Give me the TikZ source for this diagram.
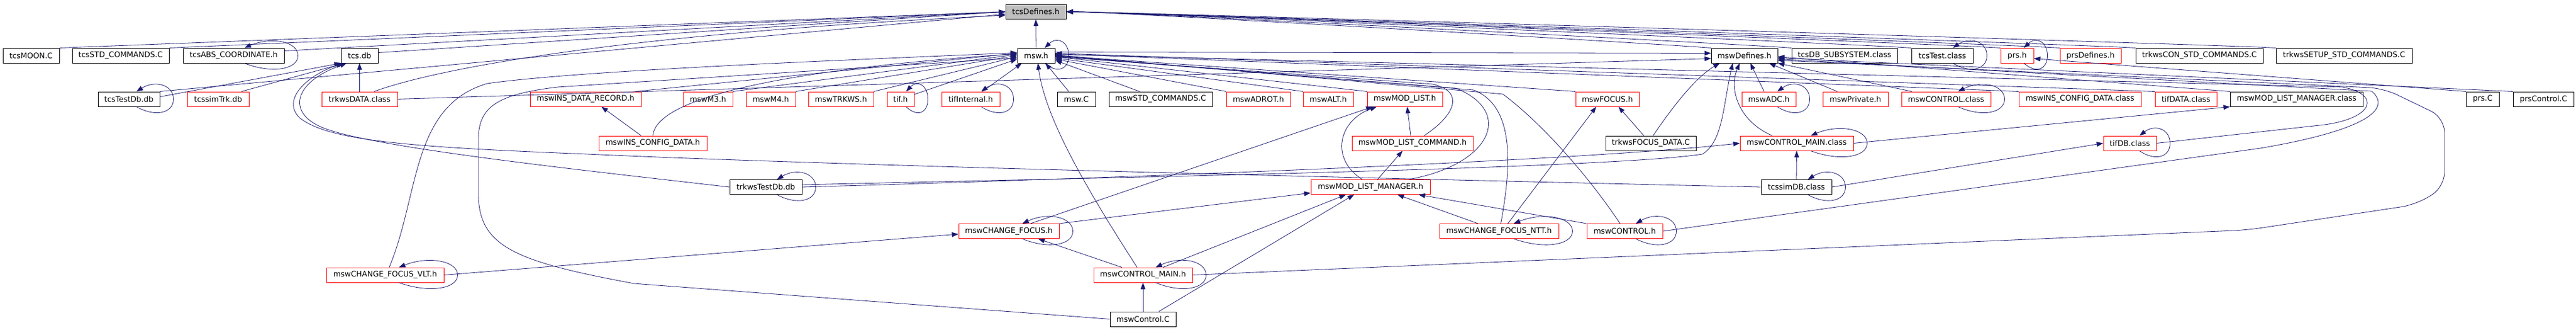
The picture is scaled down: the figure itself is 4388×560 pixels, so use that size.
\documentclass[tikz,border=0pt]{standalone}
\usepackage{fontspec}
\setmainfont{DejaVu Sans}
\usetikzlibrary{arrows.meta}
\definecolor{edgec}{HTML}{191970}
\definecolor{boxred}{HTML}{FF0000}
\definecolor{rootfill}{HTML}{BFBFBF}
\tikzset{
  nb/.style={draw=black, line width=1pt, minimum height=25pt, inner sep=0pt, font=\fontsize{13}{15}\selectfont},
  nr/.style={nb, draw=boxred},
  root/.style={nb, fill=rootfill},
  lnk/.style={draw=edgec, line width=0.8pt, -{Triangle[length=11pt,width=8pt]}},
}
\newcommand{\selfloop}[2]{\draw[lnk] ([xshift=-#2pt]#1.south east) .. controls +({0.5*#2+12},18) and +(0,24) .. ([xshift=23pt]#1.east) .. controls +(0,-24) and +({0.5*#2+12},-20) .. ([xshift=-#2pt]#1.north east);}
\begin{document}
\begin{tikzpicture}[x=1pt,y=-1pt]
\useasboundingbox (0,0) rectangle (4388,560);
% row 0
\node[root,minimum width=103pt] (tcsdef) at (1764.5,20) {tcsDefines.h};
% row 1
\node[nb,minimum width=96pt] (tcsmoon) at (53,94.5) {tcsMOON.C};
\node[nb,minimum width=165pt] (tcsstd) at (205.5,94.5) {tcsSTD\_COMMANDS.C};
\node[nb,minimum width=172pt] (tcsabs) at (398,94.5) {tcsABS\_COORDINATE.h};
\node[nb,minimum width=63pt] (tcsdb) at (612.5,94.5) {tcs.db};
\node[nb,minimum width=64pt] (msw) at (1765,94.5) {msw.h};
\node[nb,minimum width=113pt] (mdef) at (2971.5,94.5) {mswDefines.h};
\node[nb,minimum width=180pt] (tcsdbsub) at (3142,94.5) {tcsDB\_SUBSYSTEM.class};
\node[nb,minimum width=105pt] (tcstest) at (3308.5,94.5) {tcsTest.class};
\node[nr,minimum width=56pt] (prsh) at (3436,94.5) {prs.h};
\node[nr,minimum width=104pt] (prsdef) at (3561,94.5) {prsDefines.h};
\node[nb,minimum width=217pt] (trkcon) at (3746.5,94.5) {trkwsCON\_STD\_COMMANDS.C};
\node[nb,minimum width=232pt] (trksetup) at (3993,94.5) {trkwsSETUP\_STD\_COMMANDS.C};
% row 2
\node[nb,minimum width=105pt] (tcstestdb) at (219.5,168.5) {tcsTestDb.db};
\node[nr,minimum width=105pt] (tcssimtrk) at (371.5,168.5) {tcssimTrk.db};
\node[nr,minimum width=129pt] (trkdata) at (612.5,168.5) {trkwsDATA.class};
\node[nr,minimum width=189pt] (insdr) at (997.5,168.5) {mswINS\_DATA\_RECORD.h};
\node[nr,minimum width=84pt] (m3) at (1206,168.5) {mswM3.h};
\node[nr,minimum width=84pt] (m4) at (1313,168.5) {mswM4.h};
\node[nr,minimum width=111pt] (mtrk) at (1432.5,168.5) {mswTRKWS.h};
\node[nr,minimum width=46pt] (tif) at (1534,168.5) {tif.h};
\node[nr,minimum width=99pt] (tifint) at (1653.5,168.5) {tifInternal.h};
\node[nb,minimum width=65pt] (mswc) at (1833.5,168.5) {msw.C};
\node[nb,minimum width=176pt] (mstd) at (1977,168.5) {mswSTD\_COMMANDS.C};
\node[nr,minimum width=109pt] (madrot) at (2143.5,168.5) {mswADROT.h};
\node[nr,minimum width=85pt] (malt) at (2262.5,168.5) {mswALT.h};
\node[nr,minimum width=128pt] (mlist) at (2393,168.5) {mswMOD\_LIST.h};
\node[nr,minimum width=108pt] (mfocus) at (2738,168.5) {mswFOCUS.h};
\node[nr,minimum width=92pt] (madc) at (3013,168.5) {mswADC.h};
\node[nr,minimum width=111pt] (mpriv) at (3160.5,168.5) {mswPrivate.h};
\node[nr,minimum width=152pt] (mctlc) at (3315,168.5) {mswCONTROL.class};
\node[nr,minimum width=208pt] (minsc) at (3543,168.5) {mswINS\_CONFIG\_DATA.class};
\node[nr,minimum width=105pt] (tifdata) at (3723.5,168.5) {tifDATA.class};
\node[nb,minimum width=226pt] (mlmc) at (3912,168.5) {mswMOD\_LIST\_MANAGER.class};
\node[nb,minimum width=56pt] (prsc) at (4229,168.5) {prs.C};
\node[nb,minimum width=103pt] (prsctl) at (4332.5,168.5) {prsControl.C};
% row 3
\node[nr,minimum width=184pt] (insconf) at (1112,243.5) {mswINS\_CONFIG\_DATA.h};
\node[nr,minimum width=206pt] (mlc) at (2406,243.5) {mswMOD\_LIST\_COMMAND.h};
\node[nb,minimum width=154pt] (tfd) at (2812,243.5) {trkwsFOCUS\_DATA.C};
\node[nr,minimum width=193pt] (cmc) at (3060.5,243.5) {mswCONTROL\_MAIN.class};
\node[nr,minimum width=90pt] (tifdb) at (3628,243.5) {tifDB.class};
% row 4
\node[nb,minimum width=123pt] (ttdb) at (1304.5,318) {trkwsTestDb.db};
\node[nr,minimum width=203pt] (mlm) at (2334.5,318) {mswMOD\_LIST\_MANAGER.h};
\node[nb,minimum width=120pt] (tcssim) at (3060,318) {tcssimDB.class};
% row 5
\node[nr,minimum width=171pt] (cfocus) at (1718.5,393) {mswCHANGE\_FOCUS.h};
\node[nr,minimum width=203pt] (ntt) at (2553.5,393) {mswCHANGE\_FOCUS\_NTT.h};
\node[nr,minimum width=129pt] (mctlh) at (2767.5,393) {mswCONTROL.h};
% row 6
\node[nr,minimum width=200pt] (vlt) at (656,467.5) {mswCHANGE\_FOCUS\_VLT.h};
\node[nr,minimum width=168pt] (cmainh) at (1947,467.5) {mswCONTROL\_MAIN.h};
% row 7
\node[nb,minimum width=112pt] (mswctl) at (1947,542.5) {mswControl.C};

% ---- edges into tcsDefines.h (left)
\draw[lnk] (tcsmoon.north east) -- (tcsdef.west);
\draw[lnk] (tcsstd.north east) -- (tcsdef.west);
\draw[lnk] ([yshift=8pt]tcsabs.east) -- (tcsdef.west);
\draw[lnk] ([yshift=5pt]tcsdb.east) -- (tcsdef.west);
\draw[lnk] (tcstestdb.north east) -- ([yshift=-4pt]tcsdef.west);
\draw[lnk] ([xshift=-40pt]trkdata.north east) .. controls (720,125) and (1000,60) .. ([yshift=-6pt]tcsdef.west);
% ---- edges into tcsDefines.h (right)
\draw[lnk] (mdef.north west) .. controls +(-40,-4) and +(80,0) .. (tcsdef.east);
\draw[lnk] (tcsdbsub.north west) .. controls +(-40,-4) and +(80,0) .. (tcsdef.east);
\draw[lnk] (tcstest.north west) .. controls +(-40,-4) and +(80,0) .. (tcsdef.east);
\draw[lnk] (prsh.north west) .. controls +(-40,-4) and +(80,0) .. (tcsdef.east);
\draw[lnk] (prsdef.north west) .. controls +(-40,-4) and +(80,0) .. (tcsdef.east);
\draw[lnk] (trkcon.north west) .. controls +(-40,-4) and +(80,0) .. (tcsdef.east);
\draw[lnk] (trksetup.north west) .. controls +(-40,-4) and +(80,0) .. (tcsdef.east);
\draw[lnk] (msw.north) -- (tcsdef.south);
% ---- edges into tcs.db
\draw[lnk] (trkdata.north) -- (tcsdb.south);
\draw[lnk] ([yshift=4pt]tcstestdb.east) -- (tcsdb.south west);
\draw[lnk] ([xshift=40pt]tcssimtrk.north) -- ([xshift=6pt]tcsdb.south west);
\draw[lnk] (ttdb.west) .. controls (1000,290) and (620,250) .. (545,215) .. controls (490,190) and (500,140) .. ([xshift=10pt]tcsdb.south west);
\draw[lnk] (tcssim.west) .. controls (2200,300) and (1400,280) .. (1000,262) .. controls (700,250) and (560,240) .. (510,200) .. controls (480,170) and (520,130) .. ([xshift=3pt]tcsdb.south west);
% ---- edges into msw.h (left and below)
\draw[lnk] ([xshift=-10pt]insdr.north east) -- ([yshift=4pt]msw.west);
\draw[lnk] (m3.north east) -- ([yshift=2pt]msw.west);
\draw[lnk] (m4.north east) -- (msw.west);
\draw[lnk] (mtrk.north east) -- ([yshift=-2pt]msw.west);
\draw[lnk] ([yshift=8pt]tif.east) -- ([yshift=-6pt]msw.west);
\draw[lnk] ([xshift=20pt]tifint.north) -- ([xshift=8pt]msw.south west);
\draw[lnk] (insconf.north) .. controls (1120,150) and (1450,110) .. ([yshift=3pt]msw.west);
\draw[lnk] ([xshift=7pt]vlt.north) .. controls (715,330) and (700,180) .. (830,142) .. controls (1000,118) and (1500,100) .. ([yshift=5pt]msw.west);
\draw[lnk] (mswctl.west) -- (1080,482) .. controls (880,445) and (815,420) .. (815,330) -- (815,236) .. controls (815,180) and (850,160) .. (950,148) -- ([yshift=-4pt]msw.west);
\draw[lnk] ([xshift=-13pt]mswc.north) -- ([xshift=16pt]msw.south);
\draw[lnk] ([xshift=-10pt]cmainh.north) .. controls (1850,320) and (1780,200) .. ([xshift=3pt]msw.south);
% ---- edges into msw.h (right)
\draw[lnk] ([xshift=-36pt]mstd.north) -- ([yshift=-8pt]msw.east);
\draw[lnk] (madrot.north west) -- ([yshift=-6pt]msw.east);
\draw[lnk] (malt.north west) -- ([yshift=-4pt]msw.east);
\draw[lnk] (mlist.north west) -- ([yshift=-2pt]msw.east);
\draw[lnk] (mfocus.north west) -- (msw.east);
\draw[lnk] ([xshift=20pt]mlc.north) .. controls (2480,195) and (2495,155) .. (2440,143) -- ([yshift=-2pt]msw.east);
\draw[lnk] ([xshift=65pt]mlm.north) .. controls (2540,280) and (2580,190) .. (2480,150) -- ([yshift=-1pt]msw.east);
\draw[lnk] ([xshift=3pt]ntt.north) .. controls (2575,280) and (2580,180) .. (2510,153) -- (msw.east);
\draw[lnk] ([xshift=-8pt]mctlh.north) .. controls (2720,320) and (2640,220) .. (2560,160) -- ([yshift=1pt]msw.east);
\draw[lnk] (minsc.north west) -- ([yshift=3pt]msw.east);
\draw[lnk] (tifdata.north west) -- ([yshift=4pt]msw.east);
\draw[lnk] (tifdb.east) -- (3960,212) .. controls (4045,200) and (4055,160) .. (3990,148) -- ([yshift=2pt]msw.east);
% ---- edges into mswDefines.h
\draw[lnk] ([yshift=6pt]msw.east) -- ([yshift=4pt]mdef.west);
\draw[lnk] (trkdata.east) -- ([yshift=-5pt]mdef.west);
\draw[lnk] ([xshift=4pt]tfd.north) .. controls (2850,180) and (2890,130) .. ([xshift=-42pt]mdef.south);
\draw[lnk] ([xshift=-8pt]madc.north) -- ([xshift=10pt]mdef.south);
\draw[lnk] ([xshift=-31pt]mpriv.north) -- ([xshift=42pt]mdef.south);
\draw[lnk] ([xshift=18pt]mctlc.north west) -- (mdef.south east);
\draw[lnk] ([xshift=-42pt]cmc.north) .. controls (2960,205) and (2945,150) .. ([xshift=-8pt]mdef.south);
\draw[lnk] ([yshift=4pt]ttdb.east) .. controls (2000,300) and (2750,285) .. (2900,262) .. controls (2935,240) and (2935,180) .. ([xshift=-20pt]mdef.south);
\draw[lnk] (mlmc.north west) -- ([yshift=-2pt]mdef.east);
\draw[lnk] (prsctl.north west) -- ([yshift=-4pt]mdef.east);
\draw[lnk] (mctlh.east) -- (3850,252) .. controls (4010,225) and (4080,190) .. (4040,155) -- ([yshift=-6pt]mdef.east);
\draw[lnk, rounded corners=25pt] (cmainh.east) -- (3828,391) -- (4115,348) -- (4164,318) -- (4164,200) -- (4060,150) -- ([yshift=-8pt]mdef.east);
% ---- other edges
\draw[lnk] (prsc.north west) -- ([yshift=-5pt]prsh.east);
\draw[lnk] ([xshift=-20pt]insconf.north) -- ([xshift=27pt]insdr.south);
\draw[lnk] (mswctl.north) -- (cmainh.south);
\draw[lnk] ([xshift=-36pt]cmainh.north) -- ([xshift=50pt]cfocus.south);
\draw[lnk] (vlt.east) -- ([yshift=-5pt]cfocus.west);
\draw[lnk] ([xshift=37pt]cfocus.north) -- ([xshift=-55pt]mlist.south);
\draw[lnk] (cfocus.north east) -- ([yshift=3pt]mlm.south west);
\draw[lnk] ([xshift=34pt]cmainh.north) -- ([xshift=-42pt]mlm.south);
\draw[lnk] ([xshift=27pt]mswctl.north) -- ([xshift=-28pt]mlm.south);
\draw[lnk] ([xshift=-36pt]ntt.north) -- ([xshift=46pt]mlm.south);
\draw[lnk] (mctlh.north west) -- ([xshift=82pt]mlm.south);
\draw[lnk] ([xshift=-14pt]mlm.north) .. controls (2265,270) and (2280,205) .. ([xshift=-48pt]mlist.south);
\draw[lnk] ([xshift=12pt]mlm.north) -- ([xshift=-17pt]mlc.south);
\draw[lnk] ([xshift=-3pt]mlc.north) -- ([xshift=4pt]mlist.south);
\draw[lnk] ([xshift=15pt]ntt.north) -- ([xshift=-19pt]mfocus.south);
\draw[lnk] ([xshift=-12pt]tfd.north) -- ([xshift=19pt]mfocus.south);
\draw[lnk] (tcssim.north) -- (cmc.south);
\draw[lnk] (tcssim.east) -- (tifdb.west);
\draw[lnk] (cmc.east) -- (mlmc.south west);
\draw[lnk] (ttdb.east) .. controls (2000,300) and (2700,272) .. (cmc.west);
% ---- self loops
\selfloop{tcsabs}{68}
\selfloop{tcstestdb}{40}
\selfloop{msw}{18}
\selfloop{tif}{14}
\selfloop{tifint}{32}
\selfloop{ttdb}{43}
\selfloop{vlt}{77}
\selfloop{cfocus}{63}
\selfloop{cmainh}{63}
\selfloop{ntt}{77}
\selfloop{mctlh}{46}
\selfloop{madc}{32}
\selfloop{cmc}{73}
\selfloop{tcssim}{41}
\selfloop{tcstest}{35}
\selfloop{prsh}{17}
\selfloop{mctlc}{56}
\selfloop{tifdb}{29}
\end{tikzpicture}
\end{document}
